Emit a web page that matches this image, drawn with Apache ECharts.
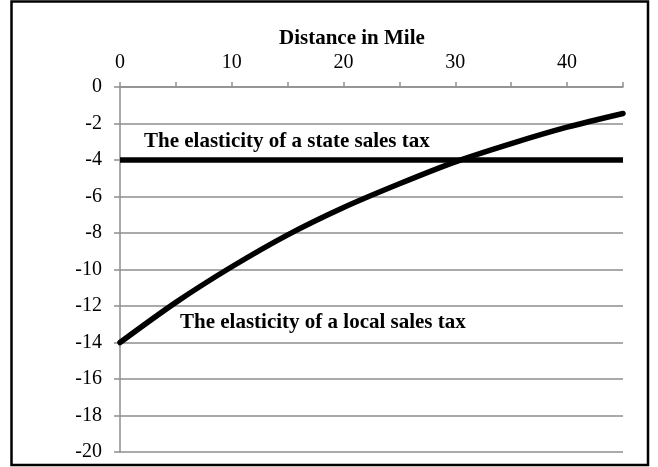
<!DOCTYPE html>
<html>
<head>
<meta charset="utf-8">
<script src="https://cdn.jsdelivr.net/npm/echarts@6/dist/echarts.min.js"></script>
<style>
  html, body { margin: 0; padding: 0; background: #fff; }
  #chart { width: 658px; height: 467px; }
</style>
</head>
<body>
<div id="chart"></div>
<script>
// distance in miles (x) and elasticities
var distance = [0, 5, 10, 15, 20, 25, 30, 35, 40, 45];
var localTax = [-14, -11.8, -9.85, -8.1, -6.6, -5.3, -4.1, -3.1, -2.2, -1.45];
var stateTax = [-4, -4];
var stateDistance = [0, 45];
var xTicks = [0, 10, 20, 30, 40];

var chart = echarts.init(document.getElementById('chart'));

var font = 'Liberation Serif';
var gray = '#8e8e8e';

var option = {
  backgroundColor: '#fff',
  animation: false,
  textStyle: { fontFamily: font },
  title: {
    text: 'Distance in Mile',
    left: 279,
    top: 28,
    padding: 0,
    textStyle: { fontFamily: font, fontSize: 21, fontWeight: 'bold', color: '#000' }
  },
  grid: { left: 120, right: 35, top: 87, bottom: 15 },
  xAxis: {
    type: 'value',
    position: 'top',
    min: 0,
    max: 45,
    interval: 5,
    axisLine: { show: true, lineStyle: { color: gray, width: 1.5 } },
    axisTick: { show: true, length: 5, lineStyle: { color: gray, width: 1.5 } },
    splitLine: { show: false },
    axisLabel: {
      margin: 14,
      fontSize: 20,
      fontFamily: font,
      color: '#000',
      formatter: function (v) {
        return xTicks.indexOf(v) >= 0 ? String(v) : '';
      }
    }
  },
  yAxis: {
    type: 'value',
    min: -20,
    max: 0,
    interval: 2,
    axisLine: { show: true, lineStyle: { color: gray, width: 1.5 } },
    axisTick: { show: true, length: 6, lineStyle: { color: gray, width: 1.5 } },
    splitLine: { show: true, lineStyle: { color: gray, width: 1.5 } },
    axisLabel: { margin: 18, fontSize: 20, fontFamily: font, color: '#000' }
  },
  graphic: [
    {
      type: 'rect',
      shape: { x: 11.5, y: 1.5, width: 636.5, height: 463.5 },
      style: { fill: 'none', stroke: '#000', lineWidth: 2.5 },
      z: 100
    },
    {
      type: 'text',
      style: {
        x: 144, y: 142,
        text: 'The elasticity of a state sales tax',
        font: 'bold 21px "Liberation Serif"',
        fill: '#000',
        textVerticalAlign: 'middle'
      },
      z: 100
    },
    {
      type: 'text',
      style: {
        x: 180, y: 323,
        text: 'The elasticity of a local sales tax',
        font: 'bold 21px "Liberation Serif"',
        fill: '#000',
        textVerticalAlign: 'middle'
      },
      z: 100
    }
  ],
  series: [
    {
      name: 'state',
      type: 'line',
      data: stateDistance.map(function (d, i) { return [d, stateTax[i]]; }),
      showSymbol: false,
      lineStyle: { color: '#000', width: 5.5 }
    },
    {
      name: 'local',
      type: 'line',
      data: distance.map(function (d, i) { return [d, localTax[i]]; }),
      smooth: 0.3,
      showSymbol: false,
      lineStyle: { color: '#000', width: 5.5, cap: 'round' }
    }
  ]
};

chart.setOption(option);
</script>
</body>
</html>
